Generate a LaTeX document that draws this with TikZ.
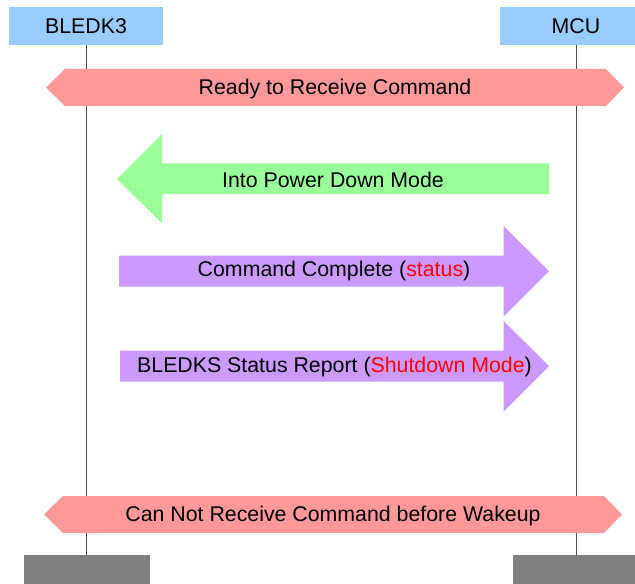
\documentclass[tikz,border=0pt]{standalone}
\usepackage{fontspec}
\setmainfont{Liberation Sans}
\usetikzlibrary{positioning,calc}

\tikzset{
  headbox/.style={fill=headblue, minimum width=153bp, minimum height=38bp, inner sep=0pt},
  footbox/.style={fill=footgray, minimum width=126bp, minimum height=36bp, inner sep=0pt},
  lifeline/.style={gray!60!black, line width=0.7pt},
  msgtext/.style={inner sep=0pt, font=\fontsize{21.4}{25}\selectfont}
}

\begin{document}
\begin{tikzpicture}[x=1bp, y=-1bp]
\definecolor{headblue}{HTML}{99CCFF}
\definecolor{footgray}{HTML}{808080}
\definecolor{salmon}{HTML}{FF9999}
\definecolor{mint}{HTML}{99FF99}
\definecolor{lilac}{HTML}{CC99FF}
\definecolor{hot}{HTML}{FF0000}

\useasboundingbox (0,0) rectangle (635,584);
\clip (0,0) rectangle (635,584);

% Cabeceras y pies de las lineas de vida
\node[headbox, msgtext] (bledk) at (86,26) {BLEDK3};
\node[headbox, msgtext] (mcu) at (576,26) {MCU};
\node[footbox] (bledkend) at (87,573) {};
\node[footbox] (mcuend) at (576,573) {};

\draw[lifeline] (bledk.south) -- (bledk.south |- bledkend.north);
\draw[lifeline] (mcu.south) -- (mcu.south |- mcuend.north);

% Flechas dobles (estado del receptor)
\foreach \yc/\xl/\xr in {87.5/46/624, 514.5/44/622} {
  \fill[salmon] (\xl,\yc) -- (\xl+19,\yc-18.5) -- (\xr-18,\yc-18.5)
    -- (\xr,\yc) -- (\xr-18,\yc+18.5) -- (\xl+19,\yc+18.5) -- cycle;
}
\node[msgtext] (ready) at (335,89) {Ready to Receive Command};
\node[msgtext] (nowake) at (333,516) {Can Not Receive Command before Wakeup};

% MCU -> BLEDK3
\fill[mint] (117,179) -- (162,134) -- (162,163.5) -- (549,163.5)
  -- (549,194) -- (162,194) -- (162,223.5) -- cycle;
\node[msgtext] (powerdown) at (333,180) {Into Power Down Mode};

% BLEDK3 -> MCU
\foreach \yc/\xl in {271/119, 366/120} {
  \fill[lilac] (\xl,\yc-15.5) -- (503.5,\yc-15.5) -- (503.5,\yc-45)
    -- (549,\yc) -- (503.5,\yc+45.5) -- (503.5,\yc+15.5) -- (\xl,\yc+15.5) -- cycle;
}
\node[msgtext] (cmddone) at (334,271) {Command Complete (\textcolor{hot}{status})};
\node[msgtext] (statusrep) at (334.5,366.5) {BLEDKS Status Report (\textcolor{hot}{Shutdown Mode})};

\end{tikzpicture}
\end{document}
